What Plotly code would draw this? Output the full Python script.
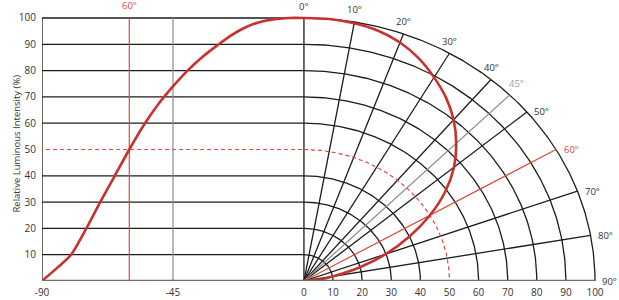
import numpy as np
import plotly.graph_objects as go

# ---- data ----
angles = [0, 5, 10, 15, 20, 25, 30, 35, 40, 45, 50, 55, 60, 65, 70, 75, 80, 85, 90]
intensity = [100, 100, 99.5, 98.5, 96.5, 93.4, 89.4, 85.1, 80, 74, 67.3, 59.3, 50, 40, 30, 19.5, 10, 4.8, 0]

y_ticks = [10, 20, 30, 40, 50, 60, 70, 80, 90, 100]
x_tickvals = [-90, -45, 0, 10, 20, 30, 40, 50, 60, 70, 80, 90, 100]
x_ticktext = ["-90", "-45", "0", "10", "20", "30", "40", "50", "60", "70", "80", "90", "100"]
radii = [10, 20, 30, 40, 60, 70, 80, 90, 100]
spoke_angles = [10, 20, 30, 40, 50, 70, 80]
spoke_labels = ["0°", "10°", "20°", "30°", "40°", "45°", "50°", "60°", "70°", "80°", "90°"]
label_angles = [0, 10, 20, 30, 40, 45, 50, 60, 70, 80, 90]
half_angle = 60       # red marker
mid_angle = 45        # gray marker
half_level = 50

RED = "#c8312c"
RED_T = "#dc4a3d"
GRAY = "#8a8a8a"
BLK = "#1c1c1c"
TXT = "#333333"
FONT = "Open Sans"

fig = go.Figure()

def add_line(xs, ys, color, width, dash=None, shape="linear"):
    fig.add_trace(go.Scatter(x=xs, y=ys, mode="lines", hoverinfo="skip",
                             line=dict(color=color, width=width, dash=dash, shape=shape,
                                       smoothing=0.8 if shape == "spline" else None),
                             showlegend=False, cliponaxis=False))

# left horizontal grid lines (50% level is drawn dashed red instead)
gx, gy = [], []
for v in y_ticks:
    if v == half_level:
        continue
    gx += [-90, 0, None]
    gy += [v, v, None]
add_line(gx, gy, BLK, 1.3)
# left axis and 0° vertical
add_line([-90, -90], [0, 100], BLK, 1.3)
add_line([0, 0], [0, 100], BLK, 1.3)

# polar arcs
t = np.radians(np.linspace(0, 90, 181))
ax_, ay_ = [], []
for r in radii:
    ax_ += list(r * np.sin(t)) + [None]
    ay_ += list(r * np.cos(t)) + [None]
add_line(ax_, ay_, BLK, 1.3)

# spokes
sx, sy = [], []
for a in spoke_angles:
    ar = np.radians(a)
    sx += [0, 100 * np.sin(ar), None]
    sy += [0, 100 * np.cos(ar), None]
add_line(sx, sy, BLK, 1.3)

# gray 45° markers
am = np.radians(mid_angle)
add_line([-mid_angle, -mid_angle], [0, 100], GRAY, 1.2)
add_line([0, 100 * np.sin(am)], [0, 100 * np.cos(am)], GRAY, 1.2)

# red 60° markers
ah = np.radians(half_angle)
add_line([-half_angle, -half_angle], [0, 100], RED_T, 1.2)
add_line([0, 100 * np.sin(ah)], [0, 100 * np.cos(ah)], RED_T, 1.2)

# dashed 50% level
add_line([-91, 0], [half_level, half_level], RED_T, 1.2, dash="4px,3px")
add_line(list(half_level * np.sin(t)), list(half_level * np.cos(t)), RED_T, 1.2, dash="4px,3px")

# intensity curves
add_line([-a for a in angles], intensity, RED, 2.6, shape="spline")
ang_r = np.radians(angles)
px = [i * np.sin(a) for i, a in zip(intensity, ang_r)]
py = [i * np.cos(a) for i, a in zip(intensity, ang_r)]
add_line(px, py, RED, 2.6, shape="spline")

# baseline
add_line([-90, 100], [0, 0], "#6e6e6e", 2.4)

# degree labels at the spoke ends
for lab, a in zip(spoke_labels, label_angles):
    ar = np.radians(a)
    col = TXT
    if a == mid_angle:
        col = "#9a9a9a"
    if a == half_angle:
        col = RED_T
    if a < mid_angle:
        xs_, ys_ = 0, 11.5 + (0.5 if a > 0 else 0)
    elif a == mid_angle:
        xs_, ys_ = 7, 12
    else:
        xs_, ys_ = 15, 0
    fig.add_annotation(x=100 * np.sin(ar), y=100 * np.cos(ar), text=lab, showarrow=False,
                       xref="x", yref="y", xanchor="center", yanchor="middle",
                       xshift=xs_, yshift=ys_, font=dict(family=FONT, size=9.5, color=col))
fig.add_annotation(x=-half_angle, y=100, text=f"{half_angle}°", showarrow=False,
                   xref="x", yref="y", xanchor="center", yanchor="middle", yshift=12,
                   font=dict(family=FONT, size=9.5, color=RED_T))

X_MAX = 108.25
Y_MAX = 106.84
fig.add_annotation(x=-34 / 577, y=0.4875, xref="paper", yref="paper", text="Relative Luminous Intensity (%)",
                   textangle=-90, showarrow=False, font=dict(family=FONT, size=9.5, color=TXT))

fig.update_layout(
    width=619, height=300,
    margin=dict(l=42, r=0, t=0, b=19, autoexpand=False),
    paper_bgcolor="white", plot_bgcolor="white",
    xaxis=dict(range=[-90, X_MAX], tickvals=x_tickvals, ticktext=x_ticktext, showgrid=False,
               zeroline=False, showline=False, ticks="", ticklabelstandoff=4, automargin=False,
               tickfont=dict(family=FONT, size=10, color=TXT), fixedrange=True),
    yaxis=dict(range=[0, Y_MAX], tickvals=y_ticks, showgrid=False, zeroline=False, showline=False,
               ticks="", ticklabelstandoff=5, automargin=False,
               tickfont=dict(family=FONT, size=10, color=TXT), fixedrange=True),
)

fig.write_html("out.html")
